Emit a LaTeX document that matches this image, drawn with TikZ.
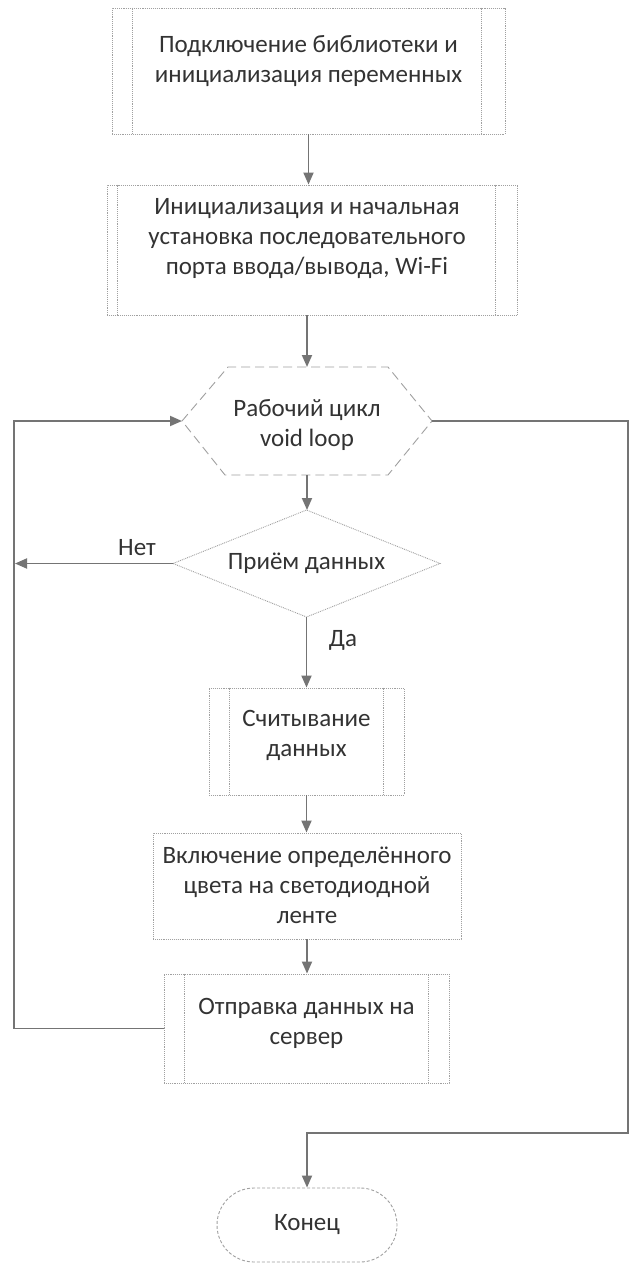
\documentclass[tikz,border=0pt]{standalone}
\usepackage{fontspec}
\setmainfont{Carlito}
\usetikzlibrary{arrows.meta,calc}
\definecolor{txtc}{HTML}{333333}
\definecolor{linec}{HTML}{747474}
\definecolor{boxc}{HTML}{A0A0A0}
\begin{document}
\begin{tikzpicture}[x=1pt,y=-1pt,
  shapebox/.style={draw=boxc, line width=0.9pt, densely dotted, inner sep=0pt},
  edgeline/.style={draw=boxc, line width=0.9pt, densely dotted},
  hexline/.style={draw=boxc, line width=0.9pt, dash pattern=on 9pt off 5pt},
  ghost/.style={inner sep=0pt, outer sep=0pt},
  lbl/.style={text=txtc, align=center, font=\fontsize{25}{30}\selectfont, inner sep=0pt},
  conn/.style={draw=linec, line width=1.8pt, -{Triangle[length=12pt,width=10pt]}},
]
\fill[white] (0,0) rectangle (632,1263);
\useasboundingbox (0,0) rectangle (632,1263);

% box 1
\node[shapebox, minimum width=393pt, minimum height=126pt] (b1) at (308.5,71) {};
\draw[edgeline] ([xshift=21pt]b1.north west) -- ([xshift=21pt]b1.south west);
\draw[edgeline] ([xshift=-24pt]b1.north east) -- ([xshift=-24pt]b1.south east);
\node[lbl] (t1) at (308.5,61) {Подключение библиотеки и\\инициализация переменных};

% box 2
\node[shapebox, minimum width=410pt, minimum height=130pt] (b2) at (312,250) {};
\draw[edgeline] ([xshift=11pt]b2.north west) -- ([xshift=11pt]b2.south west);
\draw[edgeline] ([xshift=-22pt]b2.north east) -- ([xshift=-22pt]b2.south east);
\node[lbl] (t2) at (307,239) {Инициализация и начальная\\установка последовательного\\порта ввода/вывода, Wi-Fi};

% hexagon
\node[ghost, minimum width=250pt, minimum height=108pt] (hex) at (307,421) {};
\draw[hexline] (hex.west) -- ([xshift=46pt]hex.north west) -- ([xshift=-44pt]hex.north east)
  -- (hex.east) -- ([xshift=-44pt]hex.south east) -- ([xshift=43pt]hex.south west) -- cycle;
\node[lbl] (t3) at (307,425) {Рабочий цикл\\void loop};

% diamond
\node[ghost, minimum width=267pt, minimum height=107pt] (dia) at (306.5,563.5) {};
\draw[edgeline] (dia.west) -- (dia.north) -- (dia.east) -- (dia.south) -- cycle;
\node[lbl] (t4) at (306.5,563) {Приём данных};

% box 3
\node[shapebox, minimum width=195pt, minimum height=107pt] (b3) at (306.5,741.5) {};
\draw[edgeline] ([xshift=21pt]b3.north west) -- ([xshift=21pt]b3.south west);
\draw[edgeline] ([xshift=-21pt]b3.north east) -- ([xshift=-21pt]b3.south east);
\node[lbl] (t5) at (306.5,735) {Считывание\\данных};

% box 4
\node[shapebox, minimum width=308pt, minimum height=106pt] (b4) at (307,886) {};
\node[lbl] (t6) at (307,885) {Включение определённого\\цвета на светодиодной\\ленте};

% box 5
\node[shapebox, minimum width=285pt, minimum height=109pt] (b5) at (306.5,1028.5) {};
\draw[edgeline] ([xshift=21pt]b5.north west) -- ([xshift=21pt]b5.south west);
\draw[edgeline] ([xshift=-21pt]b5.north east) -- ([xshift=-21pt]b5.south east);
\node[lbl] (t7) at (306.5,1023) {Отправка данных на\\сервер};

% terminal
\node[draw=boxc, line width=0.9pt, densely dashed, rounded corners=37pt, minimum width=180pt, minimum height=74pt, inner sep=0pt, text=txtc, font=\fontsize{25}{30}\selectfont] (term) at (307,1225) {Конец};

% helper coordinates
\coordinate (L) at (14,420);
\coordinate (R) at (628,1133);
\coordinate (netend) at (15,563.5);

% connectors
\draw[conn] (b1.south) -- (b1.south |- b2.north);
\draw[conn] (hex.north |- b2.south) -- (hex.north);
\draw[conn] (hex.south) -- (hex.south |- dia.north);
\draw[conn] (dia.west) -- (netend);
\draw[conn] (dia.south) -- (dia.south |- b3.north);
\draw[conn] (b3.south) -- (b3.south |- b4.north);
\draw[conn] (b4.south) -- (b4.south |- b5.north);
\draw[conn] (b5.west) -- (b5.west -| L) |- (hex.west);
\draw[conn] (hex.east) -| (R) -| (term.north);

% labels
\node[lbl] (net) at (137,548) {Нет};
\node[lbl] (da) at (343,640) {Да};
\end{tikzpicture}
\end{document}
